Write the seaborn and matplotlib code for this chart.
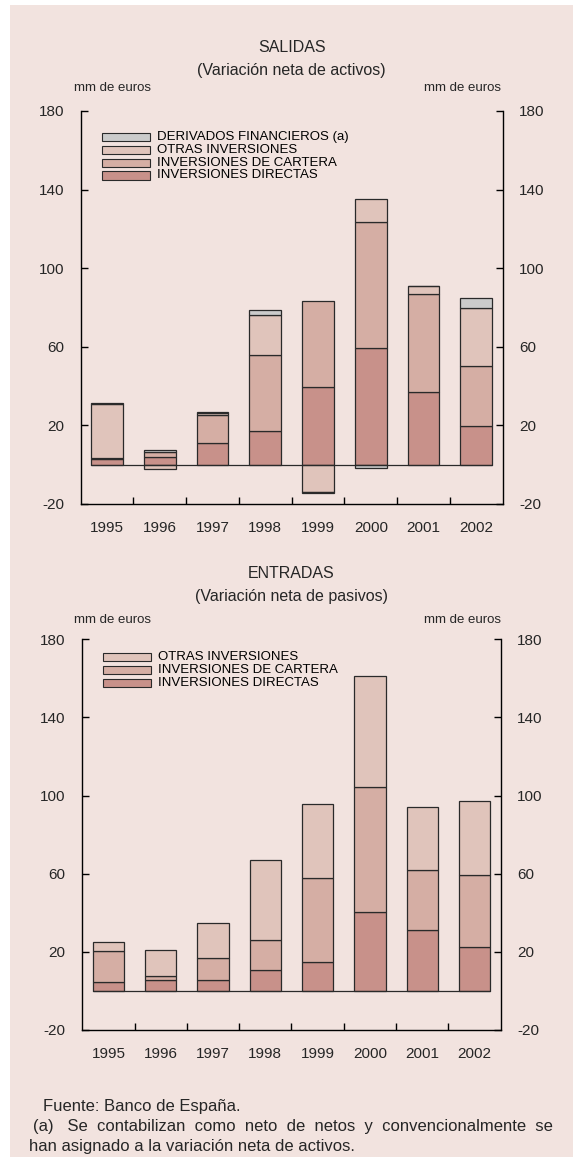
import numpy as np
import pandas as pd
import matplotlib.pyplot as plt
import seaborn as sns
from matplotlib.patches import Rectangle

years = ['1995', '1996', '1997', '1998', '1999', '2000', '2001', '2002']

# SALIDAS (variacion neta de activos), mm de euros
sal_directas = [3.0, 3.7, 11.0, 16.9, 39.7, 59.2, 36.8, 19.6]
sal_cartera = [0.6, 2.7, 14.3, 38.8, 43.5, 64.5, 50.1, 30.4]
sal_otras = [27.3, -2.0, 1.2, 20.6, -14.0, 11.5, 4.2, 29.8]
sal_derivados = [0.3, 0.9, 0.5, 2.5, -0.4, -1.9, 0.0, 5.1]

# ENTRADAS (variacion neta de pasivos), mm de euros
ent_directas = [4.8, 5.5, 5.8, 10.7, 14.8, 40.6, 31.4, 22.5]
ent_cartera = [15.8, 2.2, 10.9, 15.4, 42.8, 63.7, 30.3, 37.0]
ent_otras = [4.6, 13.1, 18.3, 40.9, 37.9, 56.8, 32.4, 37.9]

y_ticks = [-20, 20, 60, 100, 140, 180]

c_bg = '#f2e3df'
c_directas = '#c8918a'
c_cartera = '#d5aea4'
c_otras = '#e0c4bb'
c_derivados = '#cbcbcb'
c_edge = '#2a2a2a'

sns.set_style('ticks')
plt.rcParams['font.family'] = ['Liberation Sans', 'DejaVu Sans']

fig = plt.figure(figsize=(5.73, 11.57), dpi=100)
fig.patch.set_facecolor('white')
fig.patches.append(Rectangle((10 / 573, 0), 1, 1 - 5 / 1157, transform=fig.transFigure,
                             facecolor=c_bg, edgecolor='none', zorder=-10))


def stacked_bars(ax, series):
    pos = np.zeros(len(years))
    neg = np.zeros(len(years))
    for label, vals, color in series:
        vals = np.asarray(vals, dtype=float)
        bottom = np.where(vals >= 0, pos, neg)
        df = pd.DataFrame({'year': years, 'value': vals})
        sns.barplot(data=df, x='year', y='value', ax=ax, color=color, saturation=1,
                    width=0.6, errorbar=None, bottom=bottom,
                    edgecolor=c_edge, linewidth=0.9)
        pos += np.where(vals > 0, vals, 0)
        neg += np.where(vals < 0, vals, 0)
    # linea de cero
    ax.plot([-0.3, len(years) - 1 + 0.3], [0, 0], color=c_edge, lw=0.9, zorder=5)


def style_axis(ax):
    ax.set_facecolor('none')
    ax.set_xlim(-0.5, len(years) - 0.5)
    ax.set_ylim(-20, 180)
    ax.set_yticks(y_ticks)
    ax.set_yticklabels([str(t) for t in y_ticks])
    ax.set_xticks(range(len(years)))
    ax.set_xticklabels(years)
    ax.set_xticks(np.arange(0.5, len(years) - 1, 1), minor=True)
    ax.set_xlabel('')
    ax.set_ylabel('')
    ax.tick_params(axis='x', which='major', length=0, pad=12, labelsize=11)
    ax.tick_params(axis='x', which='minor', direction='in', length=5, width=1, color='black')
    ax.tick_params(axis='y', which='major', direction='in', length=5, width=1, color='black',
                   left=True, right=True, labelleft=True, labelright=True, pad=12, labelsize=11)
    ax.spines['top'].set_visible(False)
    for s in ['left', 'right', 'bottom']:
        ax.spines[s].set_color('black')
        ax.spines[s].set_linewidth(1)


def legend_rows(ax, entries, rows_y):
    for (label, color), yy in zip(entries, rows_y):
        ax.add_patch(Rectangle((0.05, yy - 0.0105), 0.114, 0.021, transform=ax.transAxes,
                               facecolor=color, edgecolor=c_edge, lw=0.8, clip_on=False))
        ax.text(0.182, yy, label, transform=ax.transAxes, va='center', ha='left',
                fontsize=9.5, color='black')


# --- SALIDAS ---
ax1 = fig.add_axes([0.1408, 0.5644, 0.7365, 0.3397])
stacked_bars(ax1, [('INVERSIONES DIRECTAS', sal_directas, c_directas),
                   ('INVERSIONES DE CARTERA', sal_cartera, c_cartera),
                   ('OTRAS INVERSIONES', sal_otras, c_otras),
                   ('DERIVADOS FINANCIEROS (a)', sal_derivados, c_derivados)])
style_axis(ax1)
legend_rows(ax1, [('DERIVADOS FINANCIEROS (a)', c_derivados),
                  ('OTRAS INVERSIONES', c_otras),
                  ('INVERSIONES DE CARTERA', c_cartera),
                  ('INVERSIONES DIRECTAS', c_directas)],
            [0.933, 0.901, 0.868, 0.836])

# --- ENTRADAS ---
ax2 = fig.add_axes([0.1436, 0.1098, 0.7302, 0.3376])
stacked_bars(ax2, [('INVERSIONES DIRECTAS', ent_directas, c_directas),
                   ('INVERSIONES DE CARTERA', ent_cartera, c_cartera),
                   ('OTRAS INVERSIONES', ent_otras, c_otras)])
style_axis(ax2)
legend_rows(ax2, [('OTRAS INVERSIONES', c_otras),
                  ('INVERSIONES DE CARTERA', c_cartera),
                  ('INVERSIONES DIRECTAS', c_directas)],
            [0.954, 0.922, 0.889])

# titulos
cx = 291.6 / 573
fig.text(cx, 1 - 48 / 1157, 'SALIDAS', ha='center', va='center', fontsize=11.5)
fig.text(cx, 1 - 70 / 1157, '(Variación neta de activos)', ha='center', va='center', fontsize=11.5)
fig.text(113 / 573, 1 - 88 / 1157, 'mm de euros', ha='center', va='center', fontsize=9.5)
fig.text(462 / 573, 1 - 88 / 1157, 'mm de euros', ha='center', va='center', fontsize=9.5)

fig.text(cx, 1 - 574 / 1157, 'ENTRADAS', ha='center', va='center', fontsize=11.5)
fig.text(cx, 1 - 597 / 1157, '(Variación neta de pasivos)', ha='center', va='center', fontsize=11.5)
fig.text(113 / 573, 1 - 620 / 1157, 'mm de euros', ha='center', va='center', fontsize=9.5)
fig.text(462 / 573, 1 - 620 / 1157, 'mm de euros', ha='center', va='center', fontsize=9.5)

# notas (primera linea justificada en el original)
fig.text(43 / 573, 1 - 1107 / 1157, 'Fuente: Banco de España.', ha='left', va='center', fontsize=12)
fig.text(33 / 573, 1 - 1127 / 1157,
         '(a)   Se  contabilizan  como  neto  de  netos  y  convencionalmente  se',
         ha='left', va='center', fontsize=12)
fig.text(29 / 573, 1 - 1147 / 1157, 'han asignado a la variación neta de activos.',
         ha='left', va='center', fontsize=12)

fig.savefig('out.png', dpi=100, facecolor=fig.get_facecolor())
